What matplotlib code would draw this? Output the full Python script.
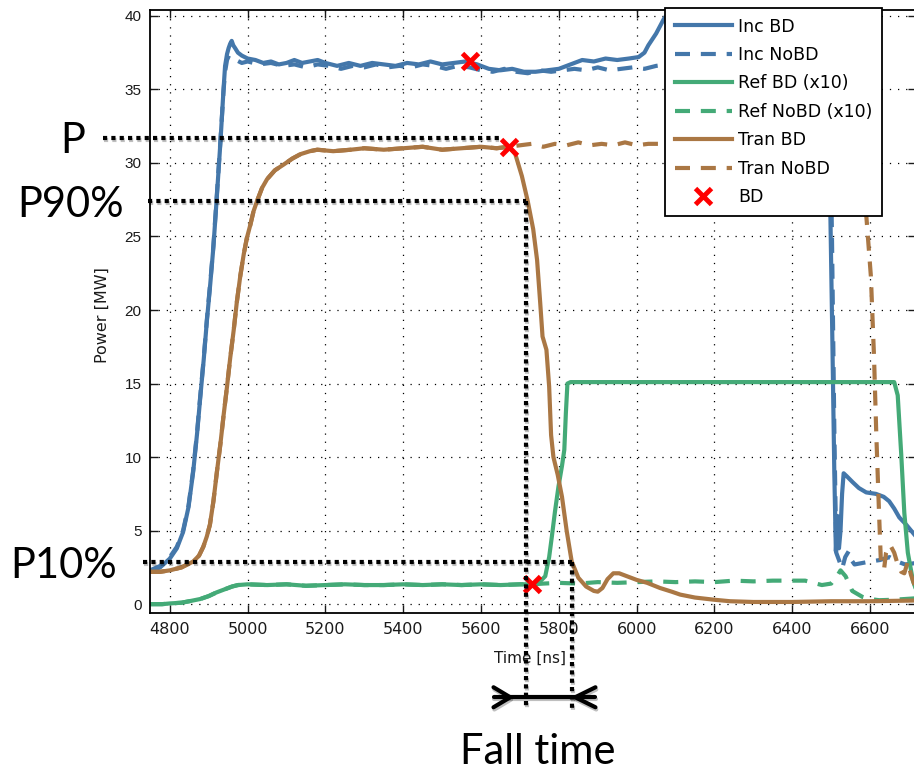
import numpy as np
import matplotlib
matplotlib.use("Agg")
import matplotlib.pyplot as plt
import matplotlib.patheffects as pe

# ---- data: (time [ns], power [MW]) ----
inc_bd = np.array([
    (4749, 2.2), (4775, 2.5), (4800, 3.1), (4818, 3.8), (4834, 4.9), (4848, 6.6),
    (4860, 9.0), (4870, 11.6), (4878, 14.0), (4887, 16.6), (4895, 19.2), (4904, 21.8),
    (4912, 24.3), (4919, 27.0), (4925, 29.4), (4930, 31.4), (4934, 33.2), (4938, 35.0),
    (4942, 36.6), (4947, 37.4), (4951, 37.8), (4955, 38.1), (4959, 38.3), (4963, 38.0),
    (4968, 37.8), (4975, 37.5), (4985, 37.3), (5000, 37.1), (5020, 37.0), (5040, 36.8),
    (5060, 36.9), (5080, 36.7), (5100, 36.8), (5120, 37.0), (5140, 36.8), (5160, 36.9),
    (5180, 37.0), (5200, 36.8), (5230, 36.6), (5260, 36.8), (5290, 36.6), (5320, 36.8),
    (5350, 36.7), (5380, 36.6), (5410, 36.8), (5440, 36.7), (5470, 36.9), (5500, 36.7),
    (5530, 36.8), (5560, 36.9), (5590, 36.7), (5620, 36.4), (5650, 36.3), (5680, 36.4),
    (5710, 36.2), (5740, 36.2), (5770, 36.3), (5800, 36.4), (5830, 36.7), (5860, 37.0),
    (5890, 36.9), (5920, 37.1), (5950, 37.0), (5980, 37.1), (6005, 37.2), (6020, 37.5),
    (6030, 38.0), (6040, 38.4), (6050, 38.8), (6060, 39.3), (6070, 39.8), (6085, 40.3),
    (6100, 40.6), (6300, 40.6), (6480, 40.6), (6490, 36.0), (6497, 28.0), (6503, 18.0),
    (6508, 9.0), (6512, 3.6), (6516, 6.0), (6520, 3.8), (6524, 5.0), (6528, 7.5),
    (6532, 8.9), (6540, 8.7), (6555, 8.3), (6571, 7.9), (6590, 7.6), (6615, 7.5),
    (6635, 7.3), (6649, 7.0), (6662, 6.5), (6675, 5.9), (6693, 5.4), (6718, 4.6),
])

inc_nobd = np.array([
    (4749, 2.3), (4775, 2.6), (4800, 3.2), (4818, 3.9), (4834, 5.0), (4848, 6.7),
    (4860, 9.1), (4870, 11.7), (4878, 14.1), (4887, 16.7), (4895, 19.3), (4904, 21.9),
    (4912, 24.4), (4919, 27.1), (4925, 29.5), (4930, 31.5), (4934, 33.2), (4938, 34.9),
    (4942, 36.2), (4947, 37.0), (4952, 37.3), (4960, 37.2), (4970, 37.0), (4985, 36.8),
    (5000, 36.9), (5030, 36.7), (5060, 36.8), (5090, 36.6), (5120, 36.7), (5150, 36.5),
    (5180, 36.7), (5210, 36.6), (5240, 36.4), (5270, 36.6), (5300, 36.5), (5330, 36.7),
    (5360, 36.5), (5390, 36.6), (5420, 36.5), (5450, 36.7), (5480, 36.6), (5510, 36.4),
    (5540, 36.6), (5570, 36.5), (5600, 36.3), (5630, 36.2), (5660, 36.4), (5690, 36.2),
    (5720, 36.1), (5750, 36.3), (5780, 36.2), (5810, 36.3), (5840, 36.4), (5870, 36.3),
    (5900, 36.5), (5930, 36.3), (5960, 36.4), (5990, 36.5), (6020, 36.4), (6050, 36.6),
    (6080, 36.7), (6200, 36.8), (6400, 36.8), (6495, 36.8), (6502, 25.0), (6508, 12.0),
    (6513, 3.5), (6520, 3.0), (6528, 2.4), (6536, 3.2), (6545, 3.6), (6552, 3.0),
    (6560, 2.7), (6580, 2.8), (6600, 2.9), (6625, 3.0), (6650, 3.2), (6670, 2.9),
    (6690, 2.7), (6718, 2.8),
])

ref_base = [
    (4749, 0.0), (4780, 0.0), (4800, 0.05), (4830, 0.1), (4850, 0.2), (4878, 0.35),
    (4900, 0.55), (4920, 0.8), (4940, 1.0), (4960, 1.2), (4975, 1.3), (5000, 1.35),
    (5050, 1.3), (5100, 1.35), (5150, 1.25), (5200, 1.3), (5250, 1.35), (5300, 1.3),
    (5350, 1.3), (5400, 1.35), (5450, 1.3), (5500, 1.35), (5550, 1.3), (5600, 1.35),
    (5650, 1.3), (5700, 1.35), (5732, 1.35),
]
ref_bd_tail = [
    (5750, 1.5), (5765, 1.9), (5775, 3.2), (5782, 4.6), (5790, 6.3), (5799, 8.0),
    (5808, 9.4), (5814, 10.5), (5818, 13.0), (5822, 15.0), (5830, 15.1), (6000, 15.1),
    (6300, 15.1), (6662, 15.1), (6671, 14.2), (6680, 10.2), (6688, 6.2), (6697, 3.5),
    (6710, 1.6), (6718, 1.0),
]
ref_nobd_tail = [
    (5760, 1.4), (5800, 1.45), (5850, 1.4), (5900, 1.5), (5950, 1.45), (6000, 1.5),
    (6050, 1.55), (6100, 1.5), (6150, 1.55), (6200, 1.5), (6250, 1.6), (6300, 1.55),
    (6350, 1.6), (6400, 1.6), (6433, 1.6), (6476, 1.3), (6500, 1.4), (6515, 1.9),
    (6524, 2.3), (6537, 1.9), (6554, 0.9), (6580, 0.5), (6600, 0.35), (6623, 0.27),
    (6660, 0.3), (6718, 0.4),
]

tran_base = [
    (4749, 2.2), (4775, 2.2), (4800, 2.3), (4830, 2.5), (4860, 2.9), (4875, 3.3),
    (4886, 3.9), (4895, 4.6), (4903, 5.4), (4912, 7.0), (4921, 9.0), (4930, 10.9),
    (4938, 12.8), (4947, 14.8), (4955, 16.7), (4964, 18.6), (4972, 20.5), (4981, 22.3),
    (4990, 23.8), (4998, 24.9), (5007, 25.8), (5015, 26.7), (5024, 27.4), (5037, 28.3),
    (5050, 28.9), (5070, 29.5), (5093, 29.9), (5115, 30.3), (5136, 30.6), (5160, 30.8),
    (5179, 30.9), (5220, 30.8), (5265, 30.9), (5300, 31.0), (5350, 30.9), (5400, 31.0),
    (5450, 31.1), (5500, 30.9), (5550, 31.0), (5600, 31.1), (5640, 31.0), (5671, 31.1),
]
tran_bd_tail = [
    (5688, 30.6), (5705, 29.1), (5720, 27.4), (5734, 25.5), (5744, 23.4), (5752, 20.5),
    (5758, 18.2), (5768, 17.3), (5775, 14.8), (5780, 11.5), (5786, 10.0), (5797, 8.8),
    (5808, 7.3), (5820, 5.0), (5833, 2.9), (5850, 1.8), (5870, 1.2), (5890, 0.9),
    (5900, 0.85), (5912, 1.1), (5925, 1.7), (5940, 2.1), (5955, 2.1), (5975, 1.9),
    (6000, 1.65), (6027, 1.45), (6060, 1.1), (6090, 0.85), (6112, 0.65), (6150, 0.45),
    (6200, 0.3), (6240, 0.2), (6300, 0.15), (6400, 0.15), (6500, 0.2), (6600, 0.2),
    (6718, 0.25),
]
tran_nobd_tail = [
    (5700, 31.2), (5730, 31.3), (5760, 31.1), (5790, 31.3), (5820, 31.2), (5850, 31.4),
    (5880, 31.2), (5910, 31.3), (5940, 31.2), (5970, 31.4), (6000, 31.2), (6030, 31.3),
    (6060, 31.3), (6200, 31.3), (6400, 31.3), (6580, 31.2), (6590, 26.5), (6602, 22.3),
    (6610, 16.9), (6616, 11.5), (6623, 6.2), (6628, 2.7), (6636, 2.4), (6641, 3.5),
    (6648, 4.0), (6654, 3.9), (6662, 3.5), (6671, 2.7), (6680, 2.2), (6688, 2.1),
    (6697, 2.9), (6705, 2.0), (6718, 1.0),
]

ref_bd = np.array(ref_base + ref_bd_tail)
ref_nobd = np.array(ref_base + ref_nobd_tail)
tran_bd = np.array(tran_base + tran_bd_tail)
tran_nobd = np.array(tran_base + tran_nobd_tail)

bd_t = [5572, 5671, 5732]
bd_p = [36.9, 31.1, 1.35]

# annotation levels
p_level, p90, p10 = 31.7, 27.4, 2.9
t90, t10 = 5716, 5833

c_inc, c_ref, c_tran = "#4477AA", "#44AA77", "#AA7744"
lw = 3.0
dash = (3.6, 2.6)

plt.rcParams["font.family"] = ["DejaVu Sans"]

fig = plt.figure(figsize=(9.14, 7.74), dpi=100)
ax = fig.add_axes([150 / 914, 161 / 774, 766 / 914, 603 / 774])

ax.plot(inc_bd[:, 0], inc_bd[:, 1], color=c_inc, lw=lw, label="Inc BD")
ax.plot(inc_nobd[:, 0], inc_nobd[:, 1], color=c_inc, lw=lw, dashes=dash, label="Inc NoBD")
ax.plot(ref_bd[:, 0], ref_bd[:, 1], color=c_ref, lw=lw, label="Ref BD (x10)")
ax.plot(ref_nobd[:, 0], ref_nobd[:, 1], color=c_ref, lw=lw, dashes=dash, label="Ref NoBD (x10)")
ax.plot(tran_bd[:, 0], tran_bd[:, 1], color=c_tran, lw=lw, label="Tran BD")
ax.plot(tran_nobd[:, 0], tran_nobd[:, 1], color=c_tran, lw=lw, dashes=dash, label="Tran NoBD")
ax.plot(bd_t, bd_p, ls="none", marker="x", color="red", ms=12, mew=3.5, label="BD")

ax.set_xlim(4749, 6718)
ax.set_ylim(-0.6, 40.4)
ax.set_xticks(np.arange(4800, 6601, 200))
ax.set_yticks(np.arange(0, 41, 5))
ax.grid(True, color="k", linestyle=(0, (1, 5.5)), linewidth=0.9)
ax.set_axisbelow(True)
ax.tick_params(direction="in", length=6, width=1, top=True, right=True,
               colors="#1a1a1a")
ax.tick_params(axis="x", pad=6.5, labelsize=11.5)
ax.tick_params(axis="y", pad=6, labelsize=11)
for lbl in ax.get_yticklabels():
    lbl.set_fontfamily("Liberation Sans")
for s in ax.spines.values():
    s.set_linewidth(1.3)

ax.set_xlabel("Time [ns]", fontsize=11, color="#1a1a1a")
ax.xaxis.set_label_coords(0.496, -0.063)
ax.set_ylabel("Power [MW]", fontsize=11.5, color="#1a1a1a")
ax.yaxis.set_label_coords(-0.052, 0.494)

leg = ax.legend(loc="upper left", bbox_to_anchor=(665 / 914, 1 - 8 / 774),
                bbox_transform=fig.transFigure, borderaxespad=0, fontsize=12.5,
                handlelength=3.3, handletextpad=0.35, labelspacing=0.6,
                borderpad=0.55, fancybox=False, framealpha=1, edgecolor="k")
leg.get_frame().set_linewidth(1.3)

# ---- overlaid fall-time construction ----
shadow = [pe.SimpleLineShadow(offset=(0.6, -1.6), shadow_color="k", alpha=0.25), pe.Normal()]
dot = dict(color="k", lw=3, linestyle=(0, (1, 1)), clip_on=False, zorder=10,
           path_effects=shadow)
ax.plot([4628, 5645], [p_level, p_level], **dot)
ax.plot([4744, t90], [p90, p90], **dot)
ax.plot([t90, t90], [p90, -7.0], **dot)
ax.plot([4731, t10], [p10, p10], **dot)
ax.plot([t10, t10], [p10, -7.35], **dot)

bar_y = -6.33
solid = dict(color="k", lw=3, clip_on=False, zorder=10, solid_capstyle="round",
             path_effects=shadow)
ax.plot([5632, 5894], [bar_y, bar_y], **solid)
ax.plot([5632, 5675, 5632], [bar_y + 0.68, bar_y, bar_y - 0.68], **solid)
ax.plot([5894, 5842, 5894], [bar_y + 0.68, bar_y, bar_y - 0.68], **solid)

big = dict(fontsize=30, family="Lato", color="k", va="baseline")
fig.text(60 / 914, 1 - 153 / 774, "P", ha="left", **big)
fig.text(17 / 914, 1 - 217 / 774, "P90%", ha="left", **big)
fig.text(10 / 914, 1 - 578 / 774, "P10%", ha="left", **big)
fig.text(538 / 914, 1 - 764 / 774, "Fall time", ha="center", **big)

fig.savefig("out.png", dpi=100)
